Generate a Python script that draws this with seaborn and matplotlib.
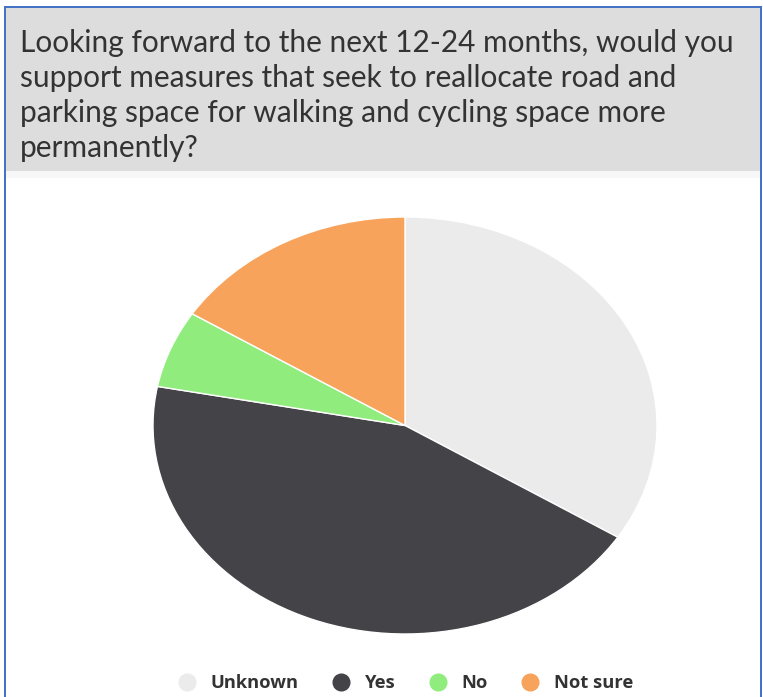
import matplotlib
matplotlib.use("Agg")
import matplotlib.pyplot as plt
import matplotlib.patches as mpatches
from matplotlib.lines import Line2D
import seaborn as sns

# ── Data ───────────────────────────────────────────────────────────────────
labels = ["Unknown", "Yes", "No", "Not sure"]
shares = [34, 44, 6, 16]
colors = ["#ebebeb", "#434348", "#90ed7d", "#f7a35c"]
title = ("Looking forward to the next 12-24 months, would you\n"
         "support measures that seek to reallocate road and\n"
         "parking space for walking and cycling space more\n"
         "permanently?")

# ── Style ──────────────────────────────────────────────────────────────────
sns.set_theme(style="white")
plt.rcParams["font.family"] = ["Lato", "DejaVu Sans"]
palette = sns.color_palette(colors)

W, H = 763, 697
fig = plt.figure(figsize=(W / 100, H / 100), dpi=100)
fig.patch.set_facecolor("white")

# header band + blue frame (screenshot look)
fig.patches.append(mpatches.Rectangle((6 / W, 1 - 171 / H), 755 / W, 163 / H,
                                      transform=fig.transFigure,
                                      facecolor="#dddddd", edgecolor="none"))
fig.patches.append(mpatches.Rectangle((6 / W, 1 - 178 / H), 755 / W, 7 / H,
                                      transform=fig.transFigure,
                                      facecolor="#f7f7f7", edgecolor="none"))
for x0, y0, w, h in [(4, 6, 2, 691), (760, 6, 2, 691), (4, 6, 758, 2)]:
    fig.patches.append(mpatches.Rectangle((x0 / W, 1 - (y0 + h) / H), w / W, h / H,
                                          transform=fig.transFigure,
                                          facecolor="#4472c4", edgecolor="none"))

fig.text(20 / W, 1 - 29 / H, title, ha="left", va="top", fontsize=21.5,
         color="#333333", linespacing=1.3)

# ── Pie (stretched, like the screenshot) ───────────────────────────────────
ax = fig.add_axes([153 / W, 1 - 634 / H, 504 / W, 417 / H])
ax.pie(shares, colors=palette, startangle=90, counterclock=False,
       wedgeprops={"edgecolor": "white", "linewidth": 1})
ax.set_aspect("auto")
ax.set_xlim(-1, 1)
ax.set_ylim(-1, 1)
ax.axis("off")

# ── Legend ─────────────────────────────────────────────────────────────────
handles = [Line2D([0], [0], marker="o", linestyle="none", markersize=12,
                  markerfacecolor=c, markeredgecolor=c) for c in palette]
leg = fig.legend(handles, labels, loc="center", ncol=4, frameon=False,
                 bbox_to_anchor=(401 / W, 1 - 683 / H), handletextpad=0.3,
                 columnspacing=1.3,
                 prop={"family": "Open Sans", "weight": "bold", "size": 13.2})
for t in leg.get_texts():
    t.set_color("#333333")

plt.savefig("out.png", dpi=100)
plt.close()
